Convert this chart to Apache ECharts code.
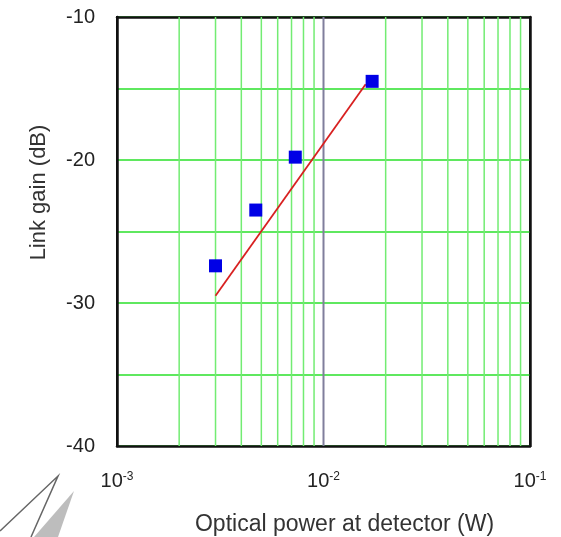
<!DOCTYPE html>
<html>
<head>
<meta charset="utf-8">
<script src="https://cdn.jsdelivr.net/npm/echarts@6/dist/echarts.min.js"></script>
<style>
  html, body { margin: 0; padding: 0; background: #fff; }
  #chart { width: 561px; height: 537px; }
</style>
</head>
<body>
<div id="chart"></div>
<script>
// measured points (optical power W, link gain dB)
var powerW = [0.0030, 0.0047, 0.0073, 0.0172];
var gainDb = [-27.4, -23.5, -19.8, -14.5];
// fitted line end points
var fitPower = [0.0030, 0.0160];
var fitGain = [-29.5, -14.7];
// minor log grid positions
var minorX = [0.002, 0.003, 0.004, 0.005, 0.006, 0.007, 0.008, 0.009,
              0.02, 0.03, 0.04, 0.05, 0.06, 0.07, 0.08, 0.09];
var decadeX = [0.01];
var xTickExp = {0.001: '-3', 0.01: '-2', 0.1: '-1'};
var yLabels = [-10, -20, -30, -40];
var yMin = -40, yMax = -10;

var chart = echarts.init(document.getElementById('chart'));

var pts = powerW.map(function (p, i) { return [p, gainDb[i]]; });
var fit = fitPower.map(function (p, i) { return [p, fitGain[i]]; });

function vline(x, color, width) {
  return {
    type: 'line',
    data: [[x, yMin], [x, yMax]],
    symbol: 'none',
    silent: true,
    lineStyle: { color: color, width: width },
    z: 1
  };
}

var series = minorX.map(function (x) { return vline(x, '#72ec72', 1.5); })
  .concat(decadeX.map(function (x) { return vline(x, '#807e9c', 2); }));

series.push({
  name: 'fit',
  type: 'line',
  data: fit,
  symbol: 'none',
  lineStyle: { color: '#d82020', width: 1.8 },
  z: 3
});
series.push({
  name: 'measured',
  type: 'scatter',
  data: pts,
  symbol: 'rect',
  symbolSize: 13,
  itemStyle: { color: '#0000e6', opacity: 1 },
  z: 4
});

var option = {
  animation: false,
  backgroundColor: '#fff',
  textStyle: { fontFamily: 'Liberation Sans, Arial, sans-serif' },
  grid: {
    left: 117, top: 17, width: 413, height: 429,
    outerBoundsMode: 'none',
    containLabel: false,
    show: true, borderColor: '#111', borderWidth: 2, backgroundColor: 'transparent'
  },
  graphic: [
    {
      type: 'polyline',
      shape: { points: [[0, 531], [58, 476], [31, 537]] },
      style: { stroke: '#666', lineWidth: 1.5, fill: null }
    },
    {
      type: 'polygon',
      shape: { points: [[74, 491], [34, 537], [58, 537]] },
      style: { fill: '#bdbdbd' }
    }
  ],
  xAxis: [{
    type: 'log',
    logBase: 10,
    min: 0.001,
    max: 0.1,
    name: 'Optical power at detector (W)',
    nameLocation: 'middle',
    nameGap: 67,
    nameTextStyle: { fontSize: 23, color: '#333', padding: [0, 0, 0, 42] },
    axisLine: { show: true, lineStyle: { color: '#111', width: 2.5 } },
    axisTick: { show: false },
    splitLine: { show: false },
    axisLabel: {
      margin: 25,
      color: '#222',
      fontSize: 20,
      formatter: function (v) {
        var e = xTickExp[+v.toPrecision(3)];
        return e ? '10{sup|' + e + '}' : '';
      },
      rich: {
        sup: { fontSize: 12, verticalAlign: 'top', padding: [0, 0, 9, 0], color: '#222' }
      }
    }
  }, {
    type: 'log',
    logBase: 10,
    min: 0.001,
    max: 0.1,
    position: 'top',
    axisLine: { show: true, lineStyle: { color: '#111', width: 2.5 } },
    axisTick: { show: false },
    axisLabel: { show: false },
    splitLine: { show: false }
  }],
  yAxis: [{
    type: 'value',
    min: yMin,
    max: yMax,
    interval: 5,
    name: 'Link gain (dB)',
    nameLocation: 'middle',
    nameGap: 67,
    nameTextStyle: { fontSize: 22, color: '#333', padding: [0, 0, 0, 78] },
    axisLine: { show: true, lineStyle: { color: '#111', width: 2.5 } },
    axisTick: { show: false },
    splitLine: { show: true, lineStyle: { color: '#5fe85f', width: 2 } },
    axisLabel: {
      margin: 22,
      color: '#222',
      fontSize: 20,
      formatter: function (v) {
        return yLabels.indexOf(v) >= 0 ? String(v) : '';
      }
    }
  }, {
    type: 'value',
    min: yMin,
    max: yMax,
    position: 'right',
    axisLine: { show: true, lineStyle: { color: '#111', width: 2.5 } },
    axisTick: { show: false },
    axisLabel: { show: false },
    splitLine: { show: false }
  }],
  series: series
};

chart.setOption(option);
</script>
</body>
</html>
